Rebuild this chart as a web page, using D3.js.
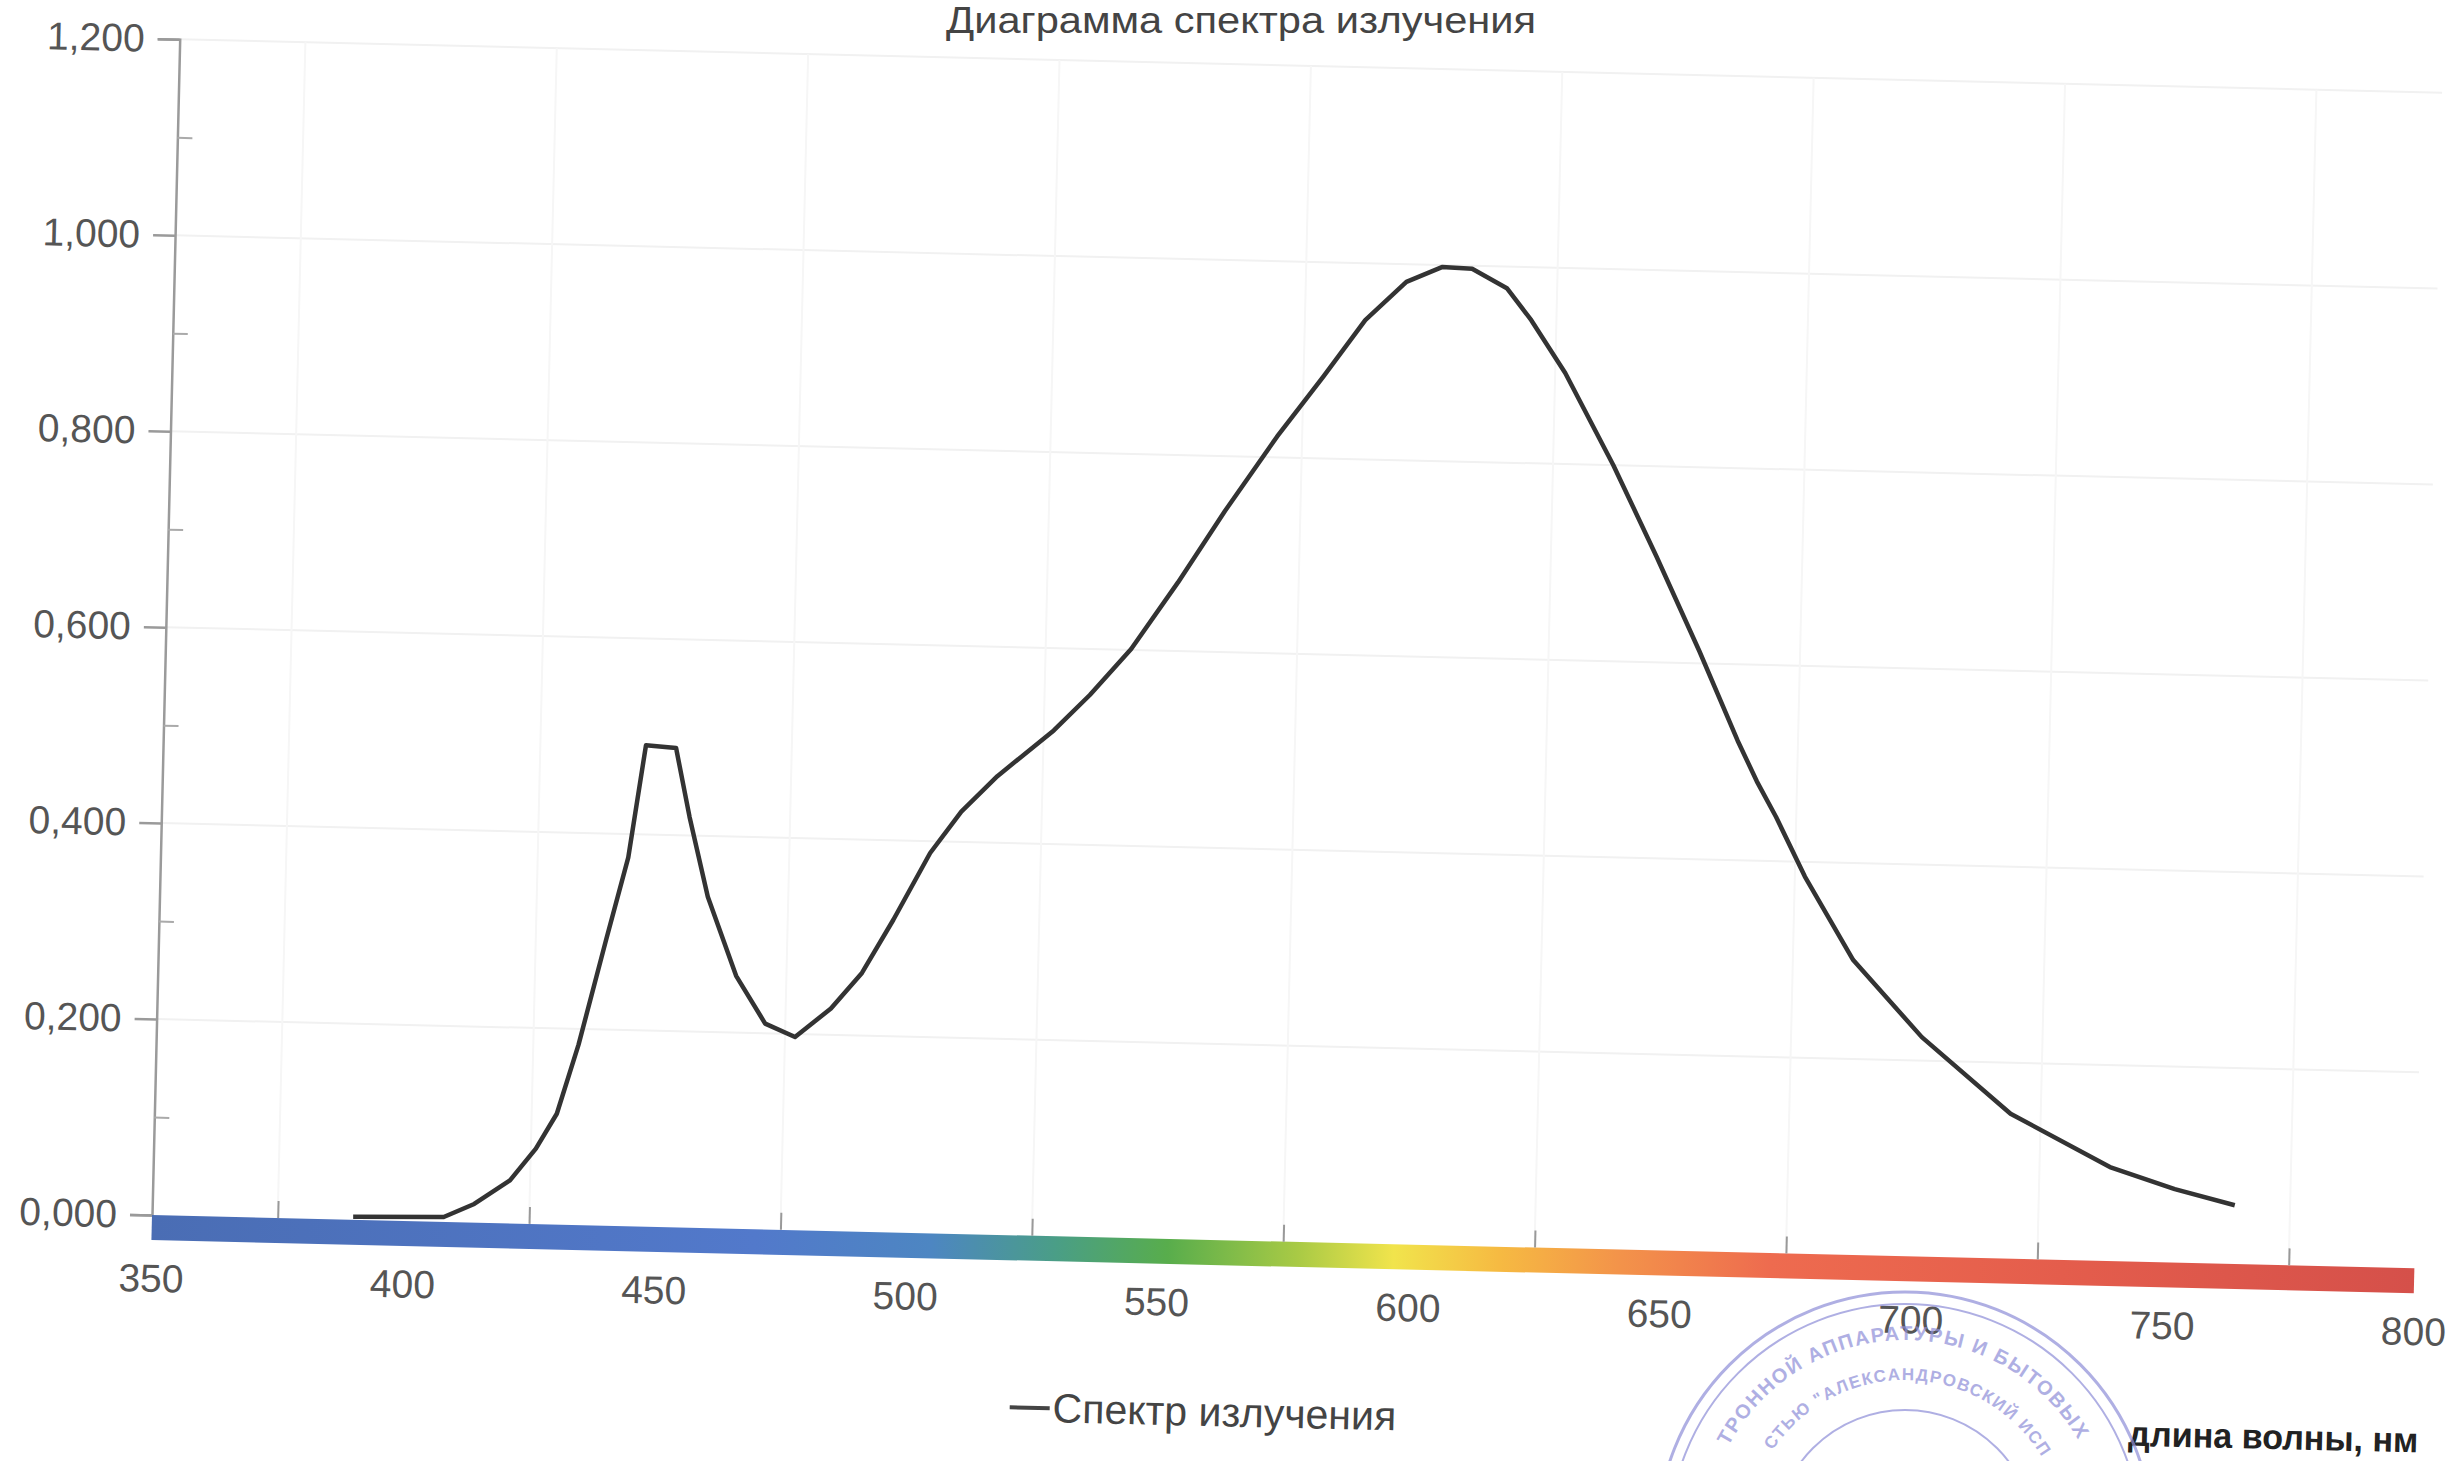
<!DOCTYPE html>
<html>
<head>
<meta charset="utf-8">
<script src="https://cdn.jsdelivr.net/npm/d3@7"></script>
<style>
  body { margin: 0; background: #fff; }
  text { font-family: "Liberation Sans", Arial, sans-serif; }
</style>
</head>
<body>
<div id="chart"></div>
<script>
// spectrum readings (wavelength, nm / relative intensity)
const wavelengths = [390, 408, 414, 421, 426, 430, 434, 439, 443, 446, 452, 455, 459, 465, 471, 477,
    484, 490, 496, 503, 509, 516, 527, 534, 542, 551, 560, 570, 579, 587, 595, 602, 608, 615, 620,
    627, 637, 646, 655, 663, 667, 671, 677, 687, 701, 719, 739, 752, 764];
const intensity = [0.003, 0.005, 0.019, 0.044, 0.077, 0.113, 0.184, 0.292, 0.376, 0.491, 0.489, 0.419,
    0.338, 0.258, 0.210, 0.197, 0.227, 0.264, 0.319, 0.388, 0.431, 0.468, 0.516, 0.553, 0.601, 0.670,
    0.744, 0.821, 0.884, 0.942, 0.982, 0.998, 0.997, 0.978, 0.946, 0.893, 0.800, 0.708, 0.612, 0.522,
    0.481, 0.445, 0.385, 0.301, 0.224, 0.148, 0.096, 0.075, 0.060];

const yTicks = [0, 0.2, 0.4, 0.6, 0.8, 1.0, 1.2];
const yMinorTicks = [0.1, 0.3, 0.5, 0.7, 0.9, 1.1];
const xTicks = [350, 400, 450, 500, 550, 600, 650, 700, 750, 800];
const xMinorTicks = [375, 425, 475, 525, 575, 625, 675, 725, 775];

// colour of the spectrum band under the x axis
const bandWavelengths = [350, 470, 505, 530, 552, 578, 597, 618, 642, 672, 730, 800];
const bandColors = ['#4a6db4', '#5279cb', '#4d86c2', '#4a9e86', '#58ad4c', '#a9ca45', '#f1e44c',
    '#f6ba42', '#f3934a', '#ee6b4f', '#e45d4c', '#d5504a'];

const chartTitle = 'Диаграмма спектра излучения';
const seriesName = 'Спектр излучения';
const xAxisTitle = 'длина волны, нм';
const stampOuterText = 'ТРОННОЙ АППАРАТУРЫ И БЫТОВЫХ';
const stampInnerText = 'СТЬЮ "АЛЕКСАНДРОВСКИЙ ИСП';

function drawChart() {
    const W = 2458, H = 1461;
    const plotW = 2263, plotH = 1176;

    const svg = d3.select('#chart').append('svg')
        .attr('width', W)
        .attr('height', H)
        .style('display', 'block');

    svg.append('rect').attr('width', W).attr('height', H).attr('fill', '#fff');

    // the scanned sheet is tilted a little, so the plot is turned about its origin
    const g = svg.append('g')
        .attr('transform', 'translate(152,1215) rotate(1.35) translate(0,' + (-plotH) + ')');

    const x = d3.scaleLinear().domain([350, 800]).range([0, plotW]);
    const y = d3.scaleLinear().domain([0, 1.2]).range([plotH, 0]);

    const ruLocale = d3.formatLocale({ decimal: ',', thousands: '\u00a0', grouping: [3], currency: ['', ''] });
    const fmt = ruLocale.format('.3f');

    // faint grid
    g.append('g').selectAll('line')
        .data(yTicks.slice(1))
        .enter().append('line')
        .attr('x1', 0).attr('x2', plotW)
        .attr('y1', d => y(d)).attr('y2', d => y(d))
        .attr('stroke', '#f1f1f1')
        .attr('stroke-width', 2);

    g.append('g').selectAll('line')
        .data(xMinorTicks)
        .enter().append('line')
        .attr('x1', d => x(d)).attr('x2', d => x(d))
        .attr('y1', 0).attr('y2', plotH)
        .attr('stroke', '#f6f6f6')
        .attr('stroke-width', 2);

    // y axis
    const yAxis = g.append('g')
        .call(d3.axisLeft(y).tickValues(yTicks).tickFormat(fmt).tickSize(22).tickPadding(13));
    yAxis.select('.domain').attr('stroke', '#9a9a9a').attr('stroke-width', 2.5);
    yAxis.selectAll('.tick line').attr('stroke', '#9a9a9a').attr('stroke-width', 2.5);
    yAxis.selectAll('text')
        .attr('font-size', 39)
        .attr('fill', '#555');

    const yMinor = g.append('g')
        .call(d3.axisRight(y).tickValues(yMinorTicks).tickFormat('').tickSize(15));
    yMinor.select('.domain').remove();
    yMinor.selectAll('.tick line').attr('stroke', '#aaa').attr('stroke-width', 2);

    // spectrum band
    const defs = svg.append('defs');
    const grad = defs.append('linearGradient')
        .attr('id', 'spectrum')
        .attr('gradientUnits', 'userSpaceOnUse')
        .attr('x1', x(350)).attr('x2', x(800))
        .attr('y1', 0).attr('y2', 0);
    grad.selectAll('stop')
        .data(bandWavelengths)
        .enter().append('stop')
        .attr('offset', d => (d - 350) / 450)
        .attr('stop-color', (d, i) => bandColors[i]);

    g.append('rect')
        .attr('x', x(350))
        .attr('y', y(0))
        .attr('width', x(800) - x(350))
        .attr('height', 25)
        .attr('fill', 'url(#spectrum)');

    const xMinor = g.append('g')
        .attr('transform', 'translate(0,' + y(0) + ')')
        .call(d3.axisTop(x).tickValues(xMinorTicks).tickFormat('').tickSize(17));
    xMinor.select('.domain').remove();
    xMinor.selectAll('.tick line').attr('stroke', '#999').attr('stroke-width', 2);

    const xAxis = g.append('g')
        .attr('transform', 'translate(0,' + y(0) + ')')
        .call(d3.axisBottom(x).tickValues(xTicks).tickFormat(d3.format('d')).tickSize(0).tickPadding(49));
    xAxis.select('.domain').remove();
    xAxis.selectAll('text')
        .attr('font-size', 39)
        .attr('fill', '#555');

    // the curve
    const points = wavelengths.map((w, i) => [w, intensity[i]]);
    const line = d3.line()
        .x(d => x(d[0]))
        .y(d => y(d[1]));

    g.append('path')
        .datum(points)
        .attr('d', line)
        .attr('fill', 'none')
        .attr('stroke', '#333')
        .attr('stroke-width', 4.5)
        .attr('stroke-linejoin', 'round');

    // legend
    const legend = g.append('g')
        .attr('transform', 'translate(862,' + (y(0) + 172) + ')');
    legend.append('line')
        .attr('x1', 0).attr('x2', 40)
        .attr('stroke', '#444')
        .attr('stroke-width', 4);
    legend.append('text')
        .attr('x', 43)
        .attr('y', 14)
        .attr('font-size', 41)
        .attr('fill', '#444')
        .text(seriesName);

    // axis title
    g.append('text')
        .attr('x', plotW + 8)
        .attr('y', y(0) + 184)
        .attr('text-anchor', 'end')
        .attr('font-size', 35)
        .attr('font-weight', 'bold')
        .attr('fill', '#222')
        .attr('textLength', 290)
        .attr('lengthAdjust', 'spacingAndGlyphs')
        .text(xAxisTitle);

    // title (sits level on the sheet)
    svg.append('text')
        .attr('x', 1241)
        .attr('y', 33)
        .attr('text-anchor', 'middle')
        .attr('font-size', 36)
        .attr('fill', '#444')
        .attr('textLength', 590)
        .attr('lengthAdjust', 'spacingAndGlyphs')
        .text(chartTitle);

    // stamp peeking in at the bottom
    const stamp = svg.append('g')
        .attr('transform', 'translate(1905,1540)')
        .attr('opacity', 0.7);
    const stampColor = '#8e8ed8';
    [248, 236, 130].forEach(r => {
        stamp.append('circle')
            .attr('r', r)
            .attr('fill', 'none')
            .attr('stroke', stampColor)
            .attr('stroke-width', r === 248 ? 3 : 2);
    });

    const arcPath = (r, a0, a1) => {
        const p0 = [r * Math.sin(a0 * Math.PI / 180), -r * Math.cos(a0 * Math.PI / 180)];
        const p1 = [r * Math.sin(a1 * Math.PI / 180), -r * Math.cos(a1 * Math.PI / 180)];
        return 'M' + p0[0] + ',' + p0[1] + ' A' + r + ',' + r + ' 0 0 1 ' + p1[0] + ',' + p1[1];
    };
    stamp.append('path').attr('id', 'stampArc1').attr('d', arcPath(200, -62, 64)).attr('fill', 'none');
    stamp.append('path').attr('id', 'stampArc2').attr('d', arcPath(160, -56, 62)).attr('fill', 'none');

    stamp.append('text')
        .attr('font-size', 20)
        .attr('font-weight', 'bold')
        .attr('fill', stampColor)
        .append('textPath')
        .attr('href', '#stampArc1')
        .attr('textLength', 425)
        .text(stampOuterText);
    stamp.append('text')
        .attr('font-size', 17)
        .attr('font-weight', 'bold')
        .attr('fill', stampColor)
        .append('textPath')
        .attr('href', '#stampArc2')
        .attr('textLength', 320)
        .text(stampInnerText);
}
drawChart();
</script>
</body>
</html>
